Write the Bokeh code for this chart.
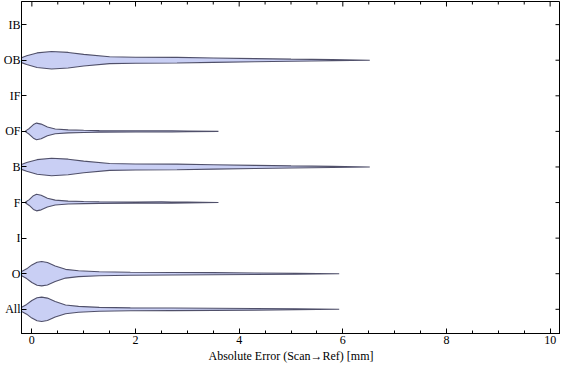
import math
from bokeh.plotting import figure
from bokeh.models import Range1d, FixedTicker
from bokeh.embed import file_html
from bokeh.resources import INLINE

# Categories, bottom to top
categories = ["All", "O", "I", "F", "B", "OF", "IF", "OB", "IB"]

# Violin profiles: error values [mm] and half-widths (density, in category units)
all_x = [-0.22, -0.1, 0.0, 0.1, 0.19, 0.3, 0.45, 0.65, 0.9, 1.3, 1.9, 2.7, 3.5, 4.3, 5.1, 5.93]
all_w = [0.041, 0.137, 0.247, 0.323, 0.342, 0.315, 0.219, 0.123, 0.082, 0.055, 0.041, 0.036, 0.030, 0.022, 0.014, 0.0]
o_x = [-0.22, -0.1, 0.0, 0.1, 0.19, 0.3, 0.45, 0.65, 0.9, 1.3, 1.9, 2.7, 3.5, 4.3, 5.1, 5.93]
o_w = [0.041, 0.137, 0.247, 0.323, 0.342, 0.315, 0.219, 0.123, 0.082, 0.055, 0.041, 0.036, 0.030, 0.022, 0.014, 0.0]
f_x = [-0.12, -0.05, 0.03, 0.09, 0.18, 0.3, 0.45, 0.7, 1.0, 1.3, 2.0, 2.5, 2.7, 3.0, 3.6]
f_w = [0.014, 0.082, 0.192, 0.233, 0.205, 0.123, 0.068, 0.041, 0.030, 0.022, 0.016, 0.019, 0.016, 0.011, 0.0]
of_x = [-0.12, -0.05, 0.03, 0.09, 0.18, 0.3, 0.45, 0.7, 1.0, 1.3, 2.0, 2.5, 2.7, 3.0, 3.6]
of_w = [0.014, 0.082, 0.192, 0.233, 0.205, 0.123, 0.068, 0.041, 0.030, 0.022, 0.016, 0.019, 0.016, 0.011, 0.0]
b_x = [-0.2, -0.1, 0.1, 0.38, 0.7, 1.0, 1.5, 2.0, 2.8, 3.5, 4.3, 5.0, 5.8, 6.52]
b_w = [0.068, 0.123, 0.205, 0.245, 0.219, 0.164, 0.096, 0.085, 0.080, 0.062, 0.045, 0.030, 0.016, 0.0]
ob_x = [-0.2, -0.1, 0.1, 0.38, 0.7, 1.0, 1.5, 2.0, 2.8, 3.5, 4.3, 5.0, 5.8, 6.52]
ob_w = [0.068, 0.123, 0.205, 0.245, 0.219, 0.164, 0.096, 0.085, 0.080, 0.062, 0.045, 0.030, 0.016, 0.0]

violins = {"All": (all_x, all_w), "O": (o_x, o_w), "F": (f_x, f_w),
           "B": (b_x, b_w), "OF": (of_x, of_w), "OB": (ob_x, ob_w)}

x_ticks = [0, 2, 4, 6, 8, 10]
x_minor = [i * 0.5 for i in range(0, 21)]

FONT = "Liberation Serif"

xr = Range1d(-0.2, 10.2)
yr = Range1d(-0.68, 8.65)
p = figure(width=560, height=365, output_backend="svg", toolbar_location=None,
           x_range=xr, y_range=yr,
           min_border_left=4, min_border_right=0, min_border_top=1, min_border_bottom=0,
           x_axis_location="below", y_axis_location="left")
p.grid.visible = False
p.outline_line_color = "black"
p.outline_line_width = 1
p.background_fill_color = "white"
p.border_fill_color = "white"

for i, cat in enumerate(categories):
    if cat not in violins:
        continue
    xs, ws = violins[cat]
    px = list(xs) + list(xs)[::-1]
    py = [i + w for w in ws] + [i - w for w in ws][::-1]
    p.patch(px, py, fill_color="#c9cff4", line_color="#50506a", line_width=1.1)

# Mirrored frame ticks on the right (categories) and top (x ticks)
cat_pos = list(range(len(categories)))
p.scatter(x=[xr.end] * len(cat_pos), y=cat_pos, marker="dash", size=10,
          line_color="black", line_width=1)
major_top = [t for t in x_minor if t in x_ticks]
minor_top = [t for t in x_minor if t not in x_ticks]
p.scatter(x=major_top, y=[yr.end] * len(major_top), marker="dash", size=10,
          angle=math.pi / 2, line_color="black", line_width=1)
p.scatter(x=minor_top, y=[yr.end] * len(minor_top), marker="dash", size=6,
          angle=math.pi / 2, line_color="black", line_width=1)

xa = p.xaxis[0]
xa.ticker = FixedTicker(ticks=x_ticks, minor_ticks=x_minor)
xa.major_tick_in = 5
xa.major_tick_out = 0
xa.minor_tick_in = 3
xa.minor_tick_out = 0
xa.axis_line_color = "black"
xa.major_tick_line_color = "black"
xa.minor_tick_line_color = "black"
xa.major_label_text_font = FONT
xa.major_label_text_font_size = "12px"
xa.major_label_text_color = "black"
xa.axis_label = "Absolute Error (Scan\u2192Ref) [mm]"
xa.axis_label_text_font = FONT
xa.axis_label_text_font_size = "12px"
xa.axis_label_text_font_style = "normal"
xa.axis_label_text_color = "black"
xa.axis_label_standoff = 2
xa.major_label_standoff = 2

ya = p.yaxis[0]
ya.ticker = FixedTicker(ticks=cat_pos)
ya.major_tick_in = 5
ya.major_tick_out = 0
ya.minor_tick_line_color = None
ya.axis_line_color = "black"
ya.major_tick_line_color = "black"
ya.major_label_text_font = FONT
ya.major_label_text_font_size = "12px"
ya.major_label_text_color = "black"
ya.major_label_overrides = {i: c for i, c in enumerate(categories)}
ya.major_label_standoff = 1

open("out.html", "w").write(file_html(p, INLINE))
